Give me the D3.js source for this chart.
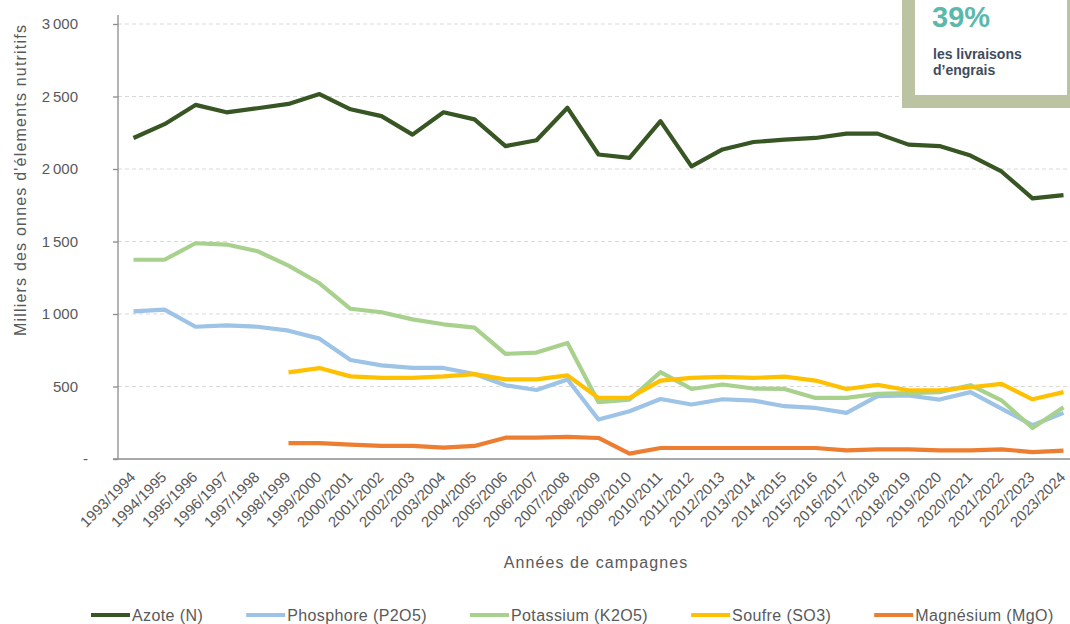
<!DOCTYPE html>
<html>
<head>
<meta charset="utf-8">
<script src="https://cdn.jsdelivr.net/npm/d3@7"></script>
<style>
  body { margin: 0; background: #fff; }
  svg { display: block; font-family: "Liberation Sans", Arial, sans-serif; }
  .c-chart__grid line { stroke: #d9d9d9; stroke-dasharray: 4 3; }
  .c-chart__axis path, .c-chart__axis line { stroke: #8c8c8c; stroke-width: 1.3; }
  .c-chart__axis text { fill: #595959; }
</style>
</head>
<body>
<svg id="chart" width="1070" height="624"></svg>
<script>
const campagnes = [
  "1993/1994", "1994/1995", "1995/1996", "1996/1997", "1997/1998", "1998/1999",
  "1999/2000", "2000/2001", "2001/2002", "2002/2003", "2003/2004", "2004/2005",
  "2005/2006", "2006/2007", "2007/2008", "2008/2009", "2009/2010", "2010/2011",
  "2011/2012", "2012/2013", "2013/2014", "2014/2015", "2015/2016", "2016/2017",
  "2017/2018", "2018/2019", "2019/2020", "2020/2021", "2021/2022", "2022/2023",
  "2023/2024"
];

const azote = [2214, 2309, 2442, 2391, 2419, 2449, 2517, 2412, 2365, 2237, 2391,
  2342, 2158, 2198, 2422, 2100, 2077, 2330, 2018, 2135, 2186, 2202, 2214, 2244,
  2244, 2168, 2158, 2093, 1983, 1797, 1820];
const phosphore = [1018, 1030, 912, 922, 912, 885, 830, 683, 646, 628, 628, 586,
  508, 476, 548, 272, 329, 414, 376, 412, 403, 364, 352, 318, 433, 438, 410, 461,
  348, 233, 318];
const potassium = [1374, 1374, 1488, 1479, 1433, 1334, 1212, 1036, 1012, 963, 929,
  906, 725, 734, 800, 392, 410, 599, 483, 514, 486, 483, 421, 421, 449, 454, 461,
  509, 405, 214, 357];
// Soufre et magnésium : pas de données avant 1998/1999
const soufre = [null, null, null, null, null, 597, 627, 570, 560, 560, 570, 585,
  549, 549, 577, 421, 421, 541, 559, 566, 559, 568, 541, 483, 511, 474, 474, 495,
  518, 412, 461];
const magnesium = [null, null, null, null, null, 110, 110, 99, 90, 90, 78, 90,
  147, 147, 152, 145, 37, 76, 76, 76, 76, 76, 76, 60, 67, 67, 60, 60, 67, 48, 58];

const yTicks = [0, 500, 1000, 1500, 2000, 2500, 3000];

const series = [
  { name: "Azote (N)", values: azote, color: "#375623" },
  { name: "Phosphore (P2O5)", values: phosphore, color: "#9dc3e6" },
  { name: "Potassium (K2O5)", values: potassium, color: "#a9d18e" },
  { name: "Soufre (SO3)", values: soufre, color: "#ffc000" },
  { name: "Magnésium (MgO)", values: magnesium, color: "#ed7d31" }
];

const svg = d3.select("#chart");
const plot = { left: 118, right: 1070, top: 15, bottom: 459 };

const x = d3.scaleBand()
  .domain(campagnes)
  .range([plot.left, plot.left + 31 * campagnes.length])
  .paddingInner(0);
const y = d3.scaleLinear().domain([0, 3000]).range([plot.bottom, 24]);
const xc = d => x(d) + x.bandwidth() / 2;

// Gridlines (dashed)
svg.append("g")
  .attr("class", "c-chart__grid")
  .selectAll("line")
  .data(yTicks.filter(d => d > 0))
  .join("line")
  .attr("x1", plot.left)
  .attr("x2", plot.right)
  .attr("y1", d => y(d))
  .attr("y2", d => y(d));

// Y axis (séparateur de milliers : espace fine)
const fmt = d => d === 0 ? "-" : d3.format(",")(d).replace(",", "\u202f");
const yAxis = svg.append("g")
  .attr("class", "c-chart__axis")
  .attr("transform", `translate(${plot.left},0)`)
  .call(d3.axisLeft(y).tickValues(yTicks).tickFormat(fmt).tickSize(5).tickPadding(35).tickSizeOuter(0));
yAxis.select(".domain").attr("d", `M0,${plot.top}V${plot.bottom}`);
yAxis.selectAll("text").style("font-size", "15px");
yAxis.selectAll("text").filter(d => d === 0).attr("x", -30);

// X axis
const xAxis = svg.append("g")
  .attr("class", "c-chart__axis")
  .attr("transform", `translate(0,${plot.bottom})`)
  .call(d3.axisBottom(x).tickSize(0).tickSizeOuter(0));
xAxis.select(".domain").attr("d", `M${plot.left - 5},0H${plot.right}`);
xAxis.selectAll(".tick text")
  .style("font-size", "15px")
  .attr("text-anchor", "end")
  .attr("dy", null)
  .attr("y", 0)
  .attr("transform", "translate(3,19) rotate(-45)");

// Axis titles
svg.append("text")
  .attr("x", 596)
  .attr("y", 568)
  .attr("text-anchor", "middle")
  .attr("fill", "#595959")
  .style("font-size", "16px")
  .style("letter-spacing", "1.1px")
  .text("Années de campagnes");

svg.append("text")
  .attr("transform", "translate(26,180) rotate(-90)")
  .attr("text-anchor", "middle")
  .attr("fill", "#595959")
  .style("font-size", "16px")
  .style("letter-spacing", "1.2px")
  .text("Milliers des onnes d'élements nutritifs");

// Lines
const line = d3.line()
  .defined(d => d.v != null)
  .x(d => xc(d.c))
  .y(d => y(d.v));

svg.append("g")
  .selectAll("path")
  .data(series)
  .join("path")
  .attr("fill", "none")
  .attr("stroke", d => d.color)
  .attr("stroke-width", 4.2)
  .attr("stroke-linejoin", "round")
  .attr("d", s => line(campagnes.map((c, i) => ({ c, v: s.values[i] }))));

// Legend
const legend = svg.append("g").attr("transform", "translate(91,615)");
let lx = 0;
series.forEach(s => {
  const item = legend.append("g").attr("transform", `translate(${lx},0)`);
  item.append("line")
    .attr("x1", 0).attr("x2", 39)
    .attr("stroke", s.color).attr("stroke-width", 4);
  const t = item.append("text")
    .attr("x", 41)
    .attr("dy", "0.35em")
    .attr("fill", "#595959")
    .style("font-size", "16px")
    .style("letter-spacing", "0.4px")
    .text(s.name);
  lx += 41 + t.node().getComputedTextLength() + 43;
});

// Encadré en haut à droite
const box = svg.append("g");
box.append("rect")
  .attr("x", 902).attr("y", -10).attr("width", 180).attr("height", 118)
  .attr("fill", "#bcc3a3");
box.append("rect")
  .attr("x", 915).attr("y", -10).attr("width", 152).attr("height", 105)
  .attr("fill", "#ffffff");
box.append("text")
  .attr("x", 932).attr("y", 27)
  .attr("fill", "#5cb8ab")
  .style("font-size", "29px")
  .style("font-weight", "bold")
  .text("39%");
box.append("text")
  .attr("x", 933).attr("y", 59)
  .attr("fill", "#3e4c5e")
  .style("font-size", "14px")
  .style("font-weight", "bold")
  .text("les livraisons");
box.append("text")
  .attr("x", 933).attr("y", 75)
  .attr("fill", "#3e4c5e")
  .style("font-size", "14px")
  .style("font-weight", "bold")
  .text("d’engrais");
</script>
</body>
</html>
